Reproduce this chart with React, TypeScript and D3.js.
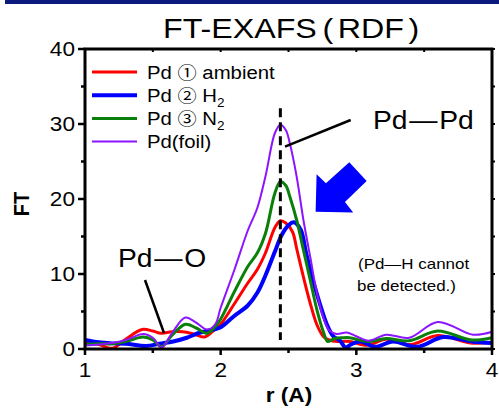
import React, { useEffect, useRef } from 'react';
import * as d3 from 'd3';

const W = 499;
const H = 408;
const SX = 1.13; // the original text is a bit stretched sideways

const xTicks = [1, 2, 3, 4];
const xMinor = [1.5, 2.5, 3.5];
const yTicks = [0, 10, 20, 30, 40];
const yMinor = [5, 15, 25, 35];

// [r, FT]
const ambient: [number, number][] = [
  [1.0, 0.8], [1.1, 0.6], [1.2, 0.1], [1.3, 1.3], [1.42, 2.6], [1.5, 2.4], [1.56, 2.1],
  [1.64, 2.3], [1.72, 2.3], [1.8, 2.0], [1.88, 1.6], [1.95, 2.5], [2.0, 3.3], [2.1, 6.0],
  [2.2, 8.8], [2.27, 10.6], [2.33, 12.8], [2.4, 16.2], [2.44, 17.1], [2.48, 16.8],
  [2.53, 15.6], [2.56, 13.4], [2.61, 9.6], [2.66, 6.1], [2.71, 3.2], [2.76, 1.6],
  [2.8, 1.2], [2.86, 1.0], [2.95, 1.0], [3.08, 0.5], [3.22, 1.3], [3.4, 0.6],
  [3.6, 1.8], [3.84, 0.8], [4.0, 0.9],
];
const h2: [number, number][] = [
  [1.0, 1.2], [1.1, 0.9], [1.2, 0.75], [1.3, 0.7], [1.45, 0.4], [1.55, 0.7], [1.65, 1.0],
  [1.75, 1.5], [1.85, 2.2], [1.95, 2.6], [2.0, 2.9], [2.1, 4.4], [2.2, 5.8], [2.27, 7.5],
  [2.33, 9.8], [2.4, 13.0], [2.45, 15.2], [2.5, 16.5], [2.54, 16.9], [2.59, 15.9],
  [2.63, 12.8], [2.68, 9.2], [2.73, 6.1], [2.78, 3.4], [2.83, 1.7], [2.88, 1.1],
  [2.92, 0.2], [2.96, 0.6], [3.03, 1.0], [3.14, 0.3], [3.27, 1.0], [3.45, 0.3],
  [3.64, 1.6], [3.85, 1.0], [4.0, 0.8],
];
const n2: [number, number][] = [
  [1.0, 0.6], [1.1, 0.7], [1.2, 0.7], [1.3, 1.0], [1.43, 1.6], [1.5, 1.2], [1.565, 0.3],
  [1.64, 1.8], [1.74, 3.3], [1.82, 2.8], [1.9, 2.1], [1.96, 3.0], [2.0, 4.0], [2.1, 7.6],
  [2.2, 11.0], [2.27, 12.8], [2.33, 15.4], [2.4, 20.8], [2.44, 22.3], [2.48, 21.8],
  [2.51, 20.3], [2.56, 17.2], [2.61, 13.2], [2.66, 9.2], [2.71, 5.2], [2.755, 2.4],
  [2.79, 1.0], [2.84, 1.4], [2.9, 1.5], [2.95, 1.5], [3.09, 1.0], [3.22, 1.4],
  [3.39, 1.1], [3.6, 2.4], [3.85, 1.2], [4.0, 1.5],
];
const foil: [number, number][] = [
  [1.0, 0.45], [1.1, 0.6], [1.2, 0.8], [1.3, 1.2], [1.43, 2.0], [1.5, 1.5], [1.565, 0.2],
  [1.64, 2.1], [1.74, 4.2], [1.82, 3.5], [1.9, 2.6], [1.96, 3.3], [2.0, 5.5], [2.1, 10.5],
  [2.2, 15.8], [2.27, 18.8], [2.33, 23.0], [2.4, 28.8], [2.44, 29.9], [2.48, 29.2],
  [2.51, 27.4], [2.56, 23.0], [2.61, 17.2], [2.66, 12.3], [2.71, 7.4], [2.755, 4.3],
  [2.8, 2.5], [2.855, 2.0], [2.93, 2.2], [3.0, 1.7], [3.09, 1.1], [3.22, 1.9],
  [3.39, 1.5], [3.6, 3.6], [3.86, 1.9], [4.0, 2.3],
];

const series = [
  { pre: 'Pd ', mark: '①', post: ' ambient', sub: '', color: '#ff0000', width: 3, data: ambient },
  { pre: 'Pd ', mark: '②', post: ' H', sub: '2', color: '#0000ff', width: 4, data: h2 },
  { pre: 'Pd ', mark: '③', post: ' N', sub: '2', color: '#0a800a', width: 3, data: n2 },
  { pre: 'Pd(foil)', mark: '', post: '', sub: '', color: '#8c14ff', width: 2, data: foil },
];

// block arrow outline, in data units
const arrowPts: [number, number][] = [
  [2.70, 18.3], [2.707, 23.3], [2.776, 22.1], [2.948, 24.9],
  [3.076, 22.4], [2.916, 19.6], [2.977, 18.2],
];

const App = () => {
  const svgRef = useRef<SVGSVGElement>(null);

  useEffect(() => {
    const margin = { top: 49, right: 7, bottom: 59, left: 85 };
    const svg = d3.select(svgRef.current);
    svg.selectAll('*').remove();

    const x = d3.scaleLinear().domain([1, 4]).range([margin.left, W - margin.right]);
    const y = d3.scaleLinear().domain([0, 40]).range([H - margin.bottom, margin.top]);

    const font = '"Liberation Sans", Arial, sans-serif';
    const cjk = '"Noto Sans CJK JP", sans-serif';
    const text = (px: number, py: number, str: string, size: number, anchor = 'start', weight = 'normal', sx = SX) =>
      svg.append('text')
        .attr('transform', `translate(${px},${py}) scale(${sx},1)`)
        .attr('text-anchor', anchor)
        .attr('font-family', font)
        .attr('font-size', size)
        .attr('font-weight', weight)
        .attr('fill', '#000')
        .text(str);

    // header band
    svg.append('rect').attr('x', 5).attr('y', 0).attr('width', W - 5).attr('height', 4).attr('fill', '#0c1a7e');

    const title = text(163, 38, '', 28, 'start', 'normal', 1.15);
    title.append('tspan').text('FT-EXAFS');
    title.append('tspan').attr('dx', 5).text('(');
    title.append('tspan').attr('dx', 4).text('RDF');
    title.append('tspan').attr('dx', 4).text(')');

    //curves
    const line = d3.line<[number, number]>()
      .x(d => x(d[0]))
      .y(d => y(d[1]))
      .curve(d3.curveCatmullRom.alpha(0.5));

    series.forEach(s => {
      svg.append('path')
        .attr('d', line(s.data))
        .attr('fill', 'none')
        .attr('stroke', s.color)
        .attr('stroke-width', s.width)
        .attr('stroke-linejoin', 'round');
    });

    // axes frame
    const bottom = H - margin.bottom;
    const left = margin.left;
    const right = W - margin.right;
    const top = margin.top;
    svg.append('rect')
      .attr('x', left).attr('y', top)
      .attr('width', right - left).attr('height', bottom - top)
      .attr('fill', 'none').attr('stroke', '#000').attr('stroke-width', 3);

    const tick = (x1: number, y1: number, x2: number, y2: number, w = 2) =>
      svg.append('line').attr('x1', x1).attr('y1', y1).attr('x2', x2).attr('y2', y2)
        .attr('stroke', '#000').attr('stroke-width', w);

    yTicks.forEach(v => {
      tick(left - 7, y(v), left, y(v), 2.5);
      tick(right, y(v), right + 3, y(v));
      text(left - 10, y(v) + 7, String(v), 20, 'end');
    });
    yMinor.forEach(v => {
      tick(left - 4, y(v), left, y(v), 2.5);
      tick(right, y(v), right + 3, y(v));
    });
    xTicks.forEach(r => {
      tick(x(r), bottom, x(r), bottom + 6, 2.5);
      text(x(r), bottom + 28, String(r), 20, 'middle');
    });
    xMinor.forEach(r => {
      tick(x(r), bottom, x(r), bottom + 4, 2.5);
      tick(x(r), top, x(r), top + 3);
    });
    [2, 3].forEach(r => tick(x(r), top, x(r), top + 3));

    // axis titles
    svg.append('text')
      .attr('transform', `translate(29,204) scale(${SX},1) rotate(-90)`)
      .attr('text-anchor', 'middle')
      .attr('font-family', font).attr('font-size', 20).attr('font-weight', 'bold')
      .text('FT');
    text(289, 402, 'r (A)', 20, 'middle', 'bold');

    // legend
    series.forEach((s, i) => {
      const ly = 72 + i * 23.2;
      svg.append('line').attr('x1', 92).attr('x2', 137).attr('y1', ly).attr('y2', ly)
        .attr('stroke', s.color).attr('stroke-width', s.width);
      const t = text(147, ly + 6.5, '', 18);
      t.append('tspan').text(s.pre);
      if (s.mark) t.append('tspan').attr('font-family', cjk).attr('font-size', 17).text(s.mark);
      if (s.post) t.append('tspan').text(s.post);
      if (s.sub) t.append('tspan').attr('font-size', 12).attr('dy', 5).text(s.sub);
    });

    // Pd-Pd marker line
    svg.append('line')
      .attr('x1', x(2.44)).attr('x2', x(2.44))
      .attr('y1', y(32.1)).attr('y2', y(1.2))
      .attr('stroke', '#000').attr('stroke-width', 3).attr('stroke-dasharray', '9,5');
    tick(285, 146.7, 350.7, 120, 2.5);
    const pp = text(373, 129, '', 25);
    pp.append('tspan').text('Pd');
    pp.append('tspan').attr('dx', 1.5).text('\u2014');
    pp.append('tspan').attr('dx', 1.5).text('Pd');

    // Pd-O
    tick(145, 280, 164, 333, 2.5);
    const po = text(118, 267, '', 25);
    po.append('tspan').text('Pd');
    po.append('tspan').attr('dx', 1.5).text('\u2014');
    po.append('tspan').attr('dx', 1.5).text('O');

    // arrow
    svg.append('polygon')
      .attr('points', arrowPts.map(p => `${x(p[0])},${y(p[1])}`).join(' '))
      .attr('fill', '#0000ff');

    text(358, 269, '(Pd\u2014H cannot', 15);
    text(357, 291, 'be detected.)', 15);
  }, []);

  return (
    <svg ref={svgRef} width={W} height={H}
      style={{ position: 'absolute', left: 0, top: 0, background: '#fff' }} />
  );
};

export default App;
